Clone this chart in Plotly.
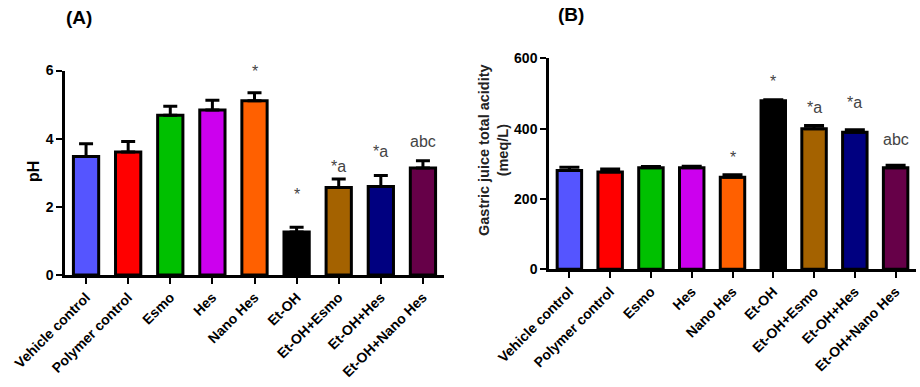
import plotly.graph_objects as go

categories = ["Vehicle control", "Polymer control", "Esmo", "Hes", "Nano Hes",
              "Et-OH", "Et-OH+Esmo", "Et-OH+Hes", "Et-OH+Nano Hes"]
colors = ["#5555FF", "#FF0000", "#00C000", "#CC00EE", "#FF6000",
          "#000000", "#A46200", "#000080", "#660048"]

ph_mean = [3.48, 3.61, 4.69, 4.84, 5.11, 1.26, 2.57, 2.60, 3.14]
ph_sem = [0.37, 0.31, 0.26, 0.29, 0.24, 0.14, 0.25, 0.32, 0.21]
ph_labels = ["", "", "", "", "*", "*", "*a", "*a", "abc"]
ph_label_y = [None, None, None, None, 5.97, 2.35, 3.18, 3.62, 3.91]

acid_mean = [281, 277, 289, 289, 262, 479, 400, 390, 289]
acid_sem = [9, 8, 3, 4, 7, 3, 9, 7, 7]
acid_labels = ["", "", "", "", "*", "*", "*a", "*a", "abc"]
acid_label_y = [None, None, None, None, 319, 533, 459, 473, 368]

W, H = 920, 387
fig = go.Figure()

fig.add_trace(go.Bar(
    x=categories, y=ph_mean, width=0.6,
    marker=dict(color=colors, line=dict(color="black", width=3)),
    error_y=dict(type="data", array=ph_sem, arrayminus=[0]*9, symmetric=False,
                 color="black", thickness=3, width=7),
    xaxis="x", yaxis="y", showlegend=False))

fig.add_trace(go.Bar(
    x=categories, y=acid_mean, width=0.6,
    marker=dict(color=colors, line=dict(color="black", width=3)),
    error_y=dict(type="data", array=acid_sem, arrayminus=[0]*9, symmetric=False,
                 color="black", thickness=3, width=10),
    xaxis="x2", yaxis="y2", showlegend=False))

tickfont = dict(family="Liberation Sans, Arial", size=14, color="black", weight="bold")
common_x = dict(type="category", tickangle=-45, showline=True, linecolor="black",
                linewidth=2.5, ticks="outside", ticklen=6, tickwidth=2, tickcolor="black",
                tickfont=tickfont, showgrid=False, zeroline=False, range=[-0.5, 8.5],
                automargin=False)
common_y = dict(showline=True, linecolor="black", linewidth=2.5, ticks="outside",
                ticklen=6, tickwidth=2, tickcolor="black", tickfont=tickfont,
                showgrid=False, zeroline=False, automargin=False)

fig.update_layout(
    width=W, height=H, autosize=False,
    margin=dict(l=0, r=0, t=0, b=0, pad=0),
    paper_bgcolor="white", plot_bgcolor="white",
    bargap=0.4,
    xaxis=dict(domain=[65/W, 444/W], anchor="y", **common_x),
    yaxis=dict(domain=[1-275/H, 1-70.5/H], anchor="x", range=[0, 6],
               tickvals=[0, 2, 4, 6], **common_y),
    xaxis2=dict(domain=[549/W, 916/W], anchor="y2", **common_x),
    yaxis2=dict(domain=[1-269.3/H, 1-58.3/H], anchor="x2", range=[0, 600],
                tickvals=[0, 200, 400, 600], **common_y),
)

annfont = dict(family="Liberation Sans, Arial", size=16, color="#444444")
for cat, lab, yy in zip(categories, ph_labels, ph_label_y):
    if lab:
        fig.add_annotation(x=cat, y=yy, xref="x", yref="y", text=lab, showarrow=False,
                           font=annfont, yanchor="middle")
for cat, lab, yy in zip(categories, acid_labels, acid_label_y):
    if lab:
        fig.add_annotation(x=cat, y=yy, xref="x2", yref="y2", text=lab, showarrow=False,
                           font=annfont, yanchor="middle")

titlefont = dict(family="Liberation Sans, Arial", size=19, color="black", weight="bold")
fig.add_annotation(x=79/W, y=1-18/H, xref="paper", yref="paper", text="(A)",
                   showarrow=False, font=titlefont, xanchor="center", yanchor="middle")
fig.add_annotation(x=571/W, y=1-15/H, xref="paper", yref="paper", text="(B)",
                   showarrow=False, font=titlefont, xanchor="center", yanchor="middle")

fig.add_annotation(x=33/W, y=1-172/H, xref="paper", yref="paper", text="pH",
                   showarrow=False, textangle=-90,
                   font=dict(family="Liberation Sans, Arial", size=16, color="black", weight="bold"),
                   xanchor="center", yanchor="middle")
fig.add_annotation(x=493/W, y=1-150/H, xref="paper", yref="paper",
                   text="Gastric juice total acidity<br>(meq/L)",
                   showarrow=False, textangle=-90,
                   font=dict(family="Liberation Sans, Arial", size=14.5, color="#222222", weight="bold"),
                   xanchor="center", yanchor="middle")

fig.write_html("out.html", config={"displayModeBar": False},
               post_script="document.body.style.margin='0';document.body.style.overflow='hidden';")
